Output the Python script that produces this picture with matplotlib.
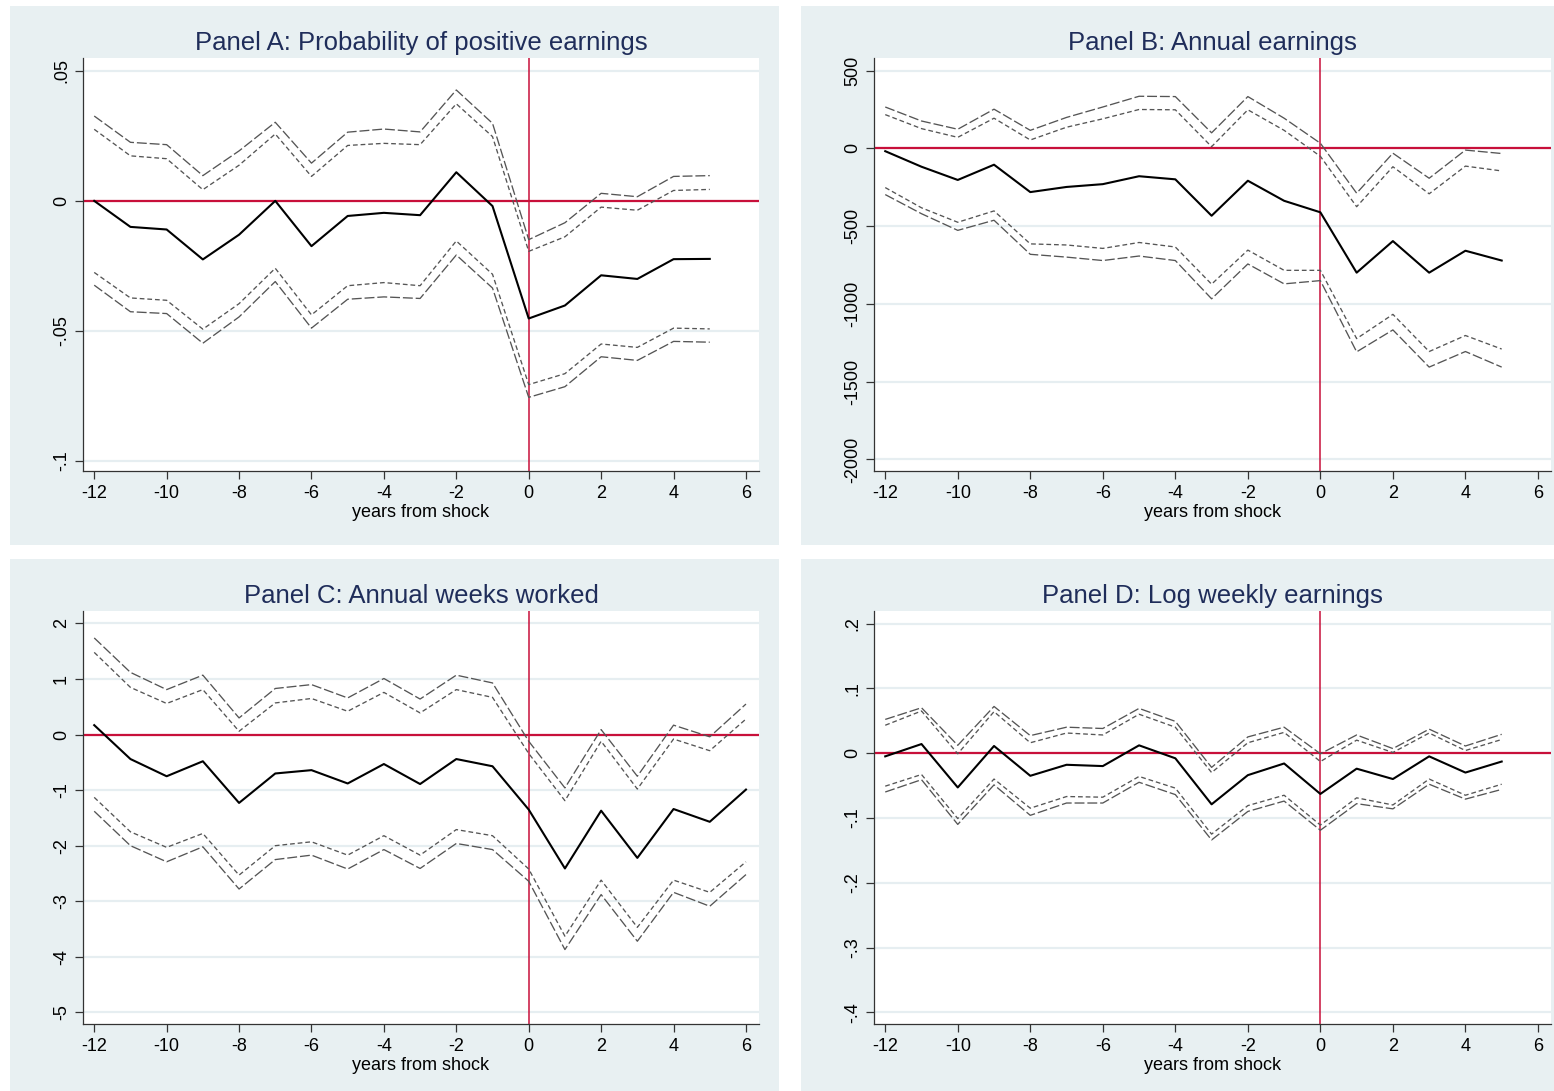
#!/usr/bin/env python3
"""
Event-study panels: effects of the shock on earnings and weeks worked.
"""

import matplotlib
matplotlib.use('Agg')
import matplotlib.pyplot as plt
from matplotlib.patches import Rectangle

# ---- data ----
years = [-12, -11, -10, -9, -8, -7, -6, -5, -4, -3, -2, -1, 0, 1, 2, 3, 4, 5]
years_c = [-12, -11, -10, -9, -8, -7, -6, -5, -4, -3, -2, -1, 0, 1, 2, 3, 4, 5, 6]
xticks = [-12, -10, -8, -6, -4, -2, 0, 2, 4, 6]

# Panel A: probability of positive earnings
a_est = [0.0, -0.010, -0.011, -0.0225, -0.013, 0.0, -0.0174, -0.0058, -0.0046,
         -0.0055, 0.011, -0.002, -0.0452, -0.0402, -0.0286, -0.030, -0.0224, -0.0223]
a_hi95 = [0.0326, 0.0225, 0.0216, 0.0097, 0.0192, 0.0302, 0.0145, 0.0264, 0.0276,
          0.0265, 0.0426, 0.0298, -0.0149, -0.0084, 0.0029, 0.0016, 0.0094, 0.0097]
a_hi90 = [0.0275, 0.0173, 0.0162, 0.0043, 0.0137, 0.0257, 0.0094, 0.0213, 0.0221,
          0.0216, 0.0373, 0.0247, -0.0194, -0.0138, -0.0024, -0.0036, 0.0040, 0.0044]
a_lo90 = [-0.0275, -0.0373, -0.0382, -0.0493, -0.0395, -0.0259, -0.0438, -0.0326, -0.0314,
          -0.0326, -0.0154, -0.0282, -0.0706, -0.0664, -0.0550, -0.0563, -0.0489, -0.0492]
a_lo95 = [-0.0324, -0.0426, -0.0433, -0.0547, -0.0446, -0.0310, -0.0489, -0.0378, -0.0369,
          -0.0375, -0.0208, -0.0335, -0.0755, -0.0714, -0.0599, -0.0613, -0.0540, -0.0543]
a_yticks = [0.05, 0.0, -0.05, -0.1]
a_ylabels = ['.05', '0', '-.05', '-.1']

# Panel B: annual earnings
b_est = [-18, -118, -203, -105, -281, -248, -230, -179, -199, -433, -208, -337,
         -411, -799, -596, -799, -658, -721]
b_hi95 = [266, 176, 123, 252, 116, 199, 266, 335, 333, 100, 333, 194,
          33, -288, -31, -192, -11, -33]
b_hi90 = [217, 127, 71, 194, 54, 136, 190, 250, 248, 11, 248, 116,
          -51, -375, -118, -292, -114, -145]
b_lo90 = [-252, -382, -475, -402, -614, -621, -643, -605, -634, -873, -654, -784,
          -784, -1223, -1067, -1306, -1203, -1290]
b_lo95 = [-297, -420, -527, -462, -681, -699, -721, -692, -721, -967, -743, -871,
          -850, -1308, -1167, -1406, -1306, -1406]
b_yticks = [500, 0, -500, -1000, -1500, -2000]
b_ylabels = ['500', '0', '-500', '-1000', '-1500', '-2000']

# Panel C: annual weeks worked
c_est = [0.17, -0.44, -0.75, -0.48, -1.23, -0.70, -0.64, -0.88, -0.53, -0.89,
         -0.44, -0.57, -1.35, -2.41, -1.37, -2.22, -1.34, -1.57, -0.99]
c_hi95 = [1.74, 1.12, 0.81, 1.07, 0.30, 0.83, 0.90, 0.66, 1.01, 0.64,
          1.07, 0.93, -0.12, -0.96, 0.09, -0.75, 0.17, -0.04, 0.55]
c_hi90 = [1.48, 0.85, 0.56, 0.81, 0.06, 0.57, 0.65, 0.42, 0.76, 0.39,
          0.81, 0.67, -0.34, -1.19, -0.12, -0.98, -0.08, -0.29, 0.28]
c_lo90 = [-1.13, -1.75, -2.03, -1.78, -2.53, -2.00, -1.93, -2.17, -1.82, -2.17,
          -1.71, -1.82, -2.42, -3.63, -2.62, -3.47, -2.62, -2.84, -2.29]
c_lo95 = [-1.38, -2.00, -2.29, -2.02, -2.78, -2.25, -2.17, -2.42, -2.07, -2.41,
          -1.96, -2.07, -2.64, -3.87, -2.88, -3.72, -2.84, -3.09, -2.52]
c_yticks = [2, 1, 0, -1, -2, -3, -4, -5]
c_ylabels = ['2', '1', '0', '-1', '-2', '-3', '-4', '-5']

# Panel D: log weekly earnings
d_est = [-0.005, 0.014, -0.053, 0.011, -0.035, -0.018, -0.020, 0.012, -0.008,
         -0.079, -0.034, -0.016, -0.063, -0.024, -0.040, -0.005, -0.030, -0.013]
d_hi95 = [0.052, 0.070, 0.012, 0.072, 0.027, 0.040, 0.038, 0.069, 0.049,
          -0.022, 0.025, 0.040, -0.001, 0.028, 0.007, 0.037, 0.011, 0.029]
d_hi90 = [0.043, 0.065, -0.001, 0.064, 0.016, 0.031, 0.028, 0.060, 0.040,
          -0.030, 0.016, 0.032, -0.013, 0.020, 0.001, 0.031, 0.004, 0.021]
d_lo90 = [-0.051, -0.033, -0.101, -0.040, -0.085, -0.067, -0.068, -0.036, -0.054,
          -0.125, -0.081, -0.065, -0.111, -0.069, -0.080, -0.040, -0.065, -0.048]
d_lo95 = [-0.060, -0.041, -0.110, -0.049, -0.096, -0.077, -0.077, -0.045, -0.064,
          -0.134, -0.090, -0.074, -0.119, -0.078, -0.086, -0.048, -0.071, -0.056]
d_yticks = [0.2, 0.1, 0.0, -0.1, -0.2, -0.3, -0.4]
d_ylabels = ['.2', '.1', '0', '-.1', '-.2', '-.3', '-.4']

# ---- style ----
plt.rcParams['font.family'] = ['Liberation Sans', 'DejaVu Sans']
BG = '#e8f0f2'
GRID = '#e6eef1'
RED = '#c8103a'
NAVY = '#1f2d5a'
DASH = '#555555'

W, H = 1554, 1091
fig = plt.figure(figsize=(W / 100, H / 100), dpi=100)
fig.patch.set_facecolor('white')


def px_rect(x0, y0, x1, y1):
    """figure-fraction [left, bottom, width, height] from pixel corners"""
    return [x0 / W, 1 - y1 / H, (x1 - x0) / W, (y1 - y0) / H]


panels = [
    # bg box, axes box, title, x, series, yticks, labels, ylim
    ((10, 6, 779, 545), (83, 58, 759, 471), 'Panel A: Probability of positive earnings',
     years, (a_est, a_hi95, a_hi90, a_lo90, a_lo95), a_yticks, a_ylabels, (-0.1038, 0.0549)),
    ((801, 6, 1554, 545), (874, 58, 1551, 471), 'Panel B: Annual earnings',
     years, (b_est, b_hi95, b_hi90, b_lo90, b_lo95), b_yticks, b_ylabels, (-2074, 581)),
    ((10, 559, 779, 1091), (83, 611, 759, 1024), 'Panel C: Annual weeks worked',
     years_c, (c_est, c_hi95, c_hi90, c_lo90, c_lo95), c_yticks, c_ylabels, (-5.21, 2.225)),
    ((801, 559, 1554, 1091), (874, 611, 1551, 1024), 'Panel D: Log weekly earnings',
     years, (d_est, d_hi95, d_hi90, d_lo90, d_lo95), d_yticks, d_ylabels, (-0.418, 0.2193)),
]

for bg, box, title, x, series, yt, yl, ylim in panels:
    fig.add_artist(Rectangle((bg[0] / W, 1 - bg[3] / H), (bg[2] - bg[0]) / W,
                             (bg[3] - bg[1]) / H, transform=fig.transFigure,
                             facecolor=BG, edgecolor='none', zorder=-10))
    ax = fig.add_axes(px_rect(*box))
    ax.set_facecolor('white')
    est, hi95, hi90, lo90, lo95 = series

    for v in yt:
        ax.axhline(v, color=GRID, lw=1.6, zorder=0)
    ax.axhline(0, color=RED, lw=1.6, zorder=1)
    ax.axvline(0, color=RED, lw=1.1, zorder=1)

    ax.plot(x, hi95, color=DASH, lw=0.95, ls=(0, (7.5, 2.2)), zorder=2)
    ax.plot(x, lo95, color=DASH, lw=0.95, ls=(0, (7.5, 2.2)), zorder=2)
    ax.plot(x, hi90, color=DASH, lw=0.95, ls=(0, (3.6, 2.2)), zorder=2)
    ax.plot(x, lo90, color=DASH, lw=0.95, ls=(0, (3.6, 2.2)), zorder=2)
    ax.plot(x, est, color='black', lw=1.5, zorder=3)

    ax.set_xlim(-12.31, 6.36)
    ax.set_ylim(*ylim)
    ax.set_xticks(xticks)
    ax.set_xticklabels([str(t) for t in xticks])
    ax.set_yticks(yt)
    ax.set_yticklabels(yl, rotation=90, va='center')

    for side in ('top', 'right'):
        ax.spines[side].set_visible(False)
    for side in ('left', 'bottom'):
        ax.spines[side].set_color('#333333')
        ax.spines[side].set_linewidth(0.9)
    ax.tick_params(axis='both', direction='out', length=5.8, width=0.9,
                   color='#333333', labelsize=13, pad=4.5)
    ax.tick_params(axis='y', pad=3.5)

    ax.set_xlabel('years from shock', fontsize=13, labelpad=1.5)
    ax.set_title(title, fontsize=18.5, color=NAVY, pad=6)

fig.savefig('out.png', dpi=100, facecolor=fig.get_facecolor())
print('Saved: out.png')
